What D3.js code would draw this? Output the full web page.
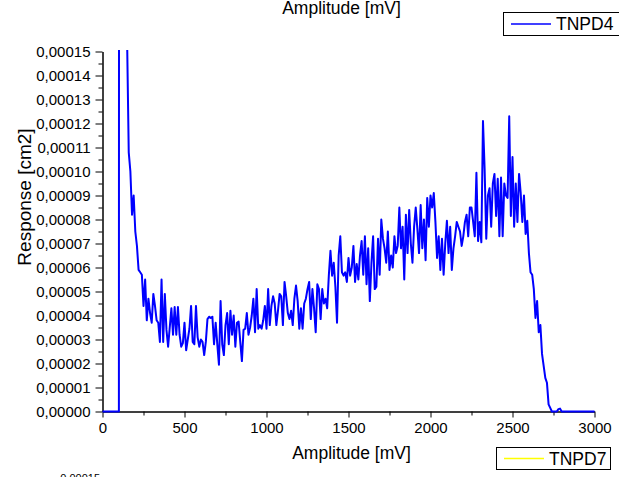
<!DOCTYPE html>
<html>
<head>
<meta charset="utf-8">
<script src="https://cdn.jsdelivr.net/npm/d3@7"></script>
<style>
  body { margin: 0; background: #fff; }
  text { font-family: "Liberation Sans", Arial, sans-serif; fill: #000; }
</style>
</head>
<body>
<script>
// Response of TNPD4, in units of 1e-5 cm2, one value per 10 mV bin starting at 0 mV
var binWidth = 10;
var tnpd4E5 = [
  0, 0, 0, 0, 0, 0, 0, 0, 0, 0,                                   // 0
  0, 250, 90, 45, 25, 15.5, 10.8, 10.0, 8.2, 9.0,                 // 100
  7.5, 6.9, 5.9, 5.8, 5.7, 4.4, 5.5, 3.8, 4.7, 4.1,               // 200
  3.7, 4.9, 4.4, 3.8, 3.7, 2.9, 5.5, 2.9, 4.9, 3.4,               // 300
  2.7, 3.5, 4.3, 3.2, 4.35, 3.2, 4.35, 3.2, 2.7, 2.85,            // 400
  3.7, 2.55, 3.0, 3.45, 4.4, 2.9, 2.8, 4.4, 3.1, 2.7,             // 500
  3.0, 2.9, 2.35, 2.9, 3.85, 3.95, 3.9, 3.95, 2.8, 3.7,           // 600
  2.8, 1.95, 4.6, 2.8, 2.35, 3.6, 4.1, 2.8, 4.2, 3.2,             // 700
  4.0, 2.7, 3.7, 3.75, 2.9, 2.1, 3.4, 3.45, 4.1, 3.2,             // 800
  3.5, 4.0, 4.7, 3.3, 5.1, 3.45, 3.6, 3.45, 3.8, 4.4,             // 900
  3.45, 5.1, 3.6, 4.4, 4.8, 4.5, 3.6, 4.2, 4.9, 4.8,              // 1000
  3.6, 5.4, 4.8, 4.1, 3.85, 4.2, 3.6, 4.7, 5.25, 4.6,             // 1100
  3.45, 4.3, 3.45, 4.5, 4.7, 5.1, 5.4, 3.85, 5.1, 4.3,            // 1200
  3.3, 5.3, 5.1, 3.85, 5.1, 4.5, 4.7, 4.3, 5.66, 6.7,             // 1300
  5.66, 6.2, 5.2, 3.7, 6.5, 7.3, 5.8, 5.66, 5.8, 5.4,             // 1400
  6.4, 5.66, 6.0, 6.9, 5.4, 6.15, 5.5, 6.5, 7.1, 5.7,             // 1500
  7.3, 5.3, 6.8, 4.6, 6.2, 7.3, 5.1, 5.2, 7.2, 5.7,               // 1600
  8.0, 7.2, 6.8, 6.2, 7.5, 5.9, 6.5, 6.0, 7.3, 6.6,               // 1700
  6.9, 8.5, 6.8, 7.7, 5.5, 8.2, 6.6, 8.4, 7.0, 6.2,               // 1800
  7.7, 8.5, 7.6, 6.6, 8.6, 6.8, 8.0, 6.3, 8.9, 7.7,               // 1900
  9.0, 8.5, 9.1, 7.9, 6.4, 7.3, 5.9, 7.2, 5.7, 7.0,               // 2000
  7.95, 6.6, 7.7, 5.9, 6.8, 7.3, 7.9, 7.7, 7.5, 6.9,              // 2100
  7.3, 7.9, 8.2, 7.3, 8.5, 8.5, 7.9, 7.3, 9.95, 7.1,              // 2200
  7.9, 7.05, 12.1, 10.1, 7.2, 9.0, 9.3, 7.7, 9.5, 9.9,            // 2300
  8.15, 9.7, 7.3, 9.75, 7.3, 9.5, 9.0, 8.9, 12.3, 8.15,           // 2400
  10.6, 7.7, 9.5, 7.9, 9.9, 9.1, 7.9, 9.0, 7.4, 7.95,             // 2500
  6.6, 5.8, 5.7, 5.1, 3.9, 4.6, 3.3, 3.6, 2.4, 1.9,               // 2600
  1.4, 1.2, 0.3, 0.15, 0, 0, 0, 0, 0.1, 0.12,                     // 2700
  0, 0, 0, 0, 0, 0, 0, 0, 0, 0,                                   // 2800
  0, 0, 0, 0, 0, 0, 0, 0, 0, 0,                                   // 2900
  0                                                               // 3000
];

var xMajor = [0, 500, 1000, 1500, 2000, 2500, 3000];
var xMinor = [250, 750, 1250, 1750, 2250, 2750];
var yMajor = [0, 0.00001, 0.00002, 0.00003, 0.00004, 0.00005, 0.00006, 0.00007,
              0.00008, 0.00009, 0.00010, 0.00011, 0.00012, 0.00013, 0.00014, 0.00015];
var yMinor = [0.000005, 0.000015, 0.000025, 0.000035, 0.000045, 0.000055, 0.000065,
              0.000075, 0.000085, 0.000095, 0.000105, 0.000115, 0.000125, 0.000135, 0.000145];

var seriesNames = ["TNPD4", "TNPD7"];
var seriesColors = ["#0000ff", "#ffff00"];

var width = 619, height = 477;

var svg = d3.select("body").append("svg")
    .attr("width", width)
    .attr("height", height);

var x = d3.scaleLinear().domain([0, 3000]).range([102.5, 594.5]);
var y = d3.scaleLinear().domain([0, 0.00015]).range([411.5, 51.5]);

// comma as decimal separator
var locale = d3.formatLocale({decimal: ",", thousands: "", grouping: [3], currency: ["", ""]});
var yFmt = locale.format(".5f");

var data = tnpd4E5.map(function(v, i) { return {a: i * binWidth, v: v * 1e-5}; });

// top title, left over from the plot above
svg.append("text")
    .attr("x", 341.5).attr("y", 13.5)
    .attr("text-anchor", "middle")
    .style("font-size", "17.5px")
    .text("Amplitude [mV]");

// axes
function styleAxis(g) {
  g.selectAll("path, line").attr("stroke", "#000").attr("stroke-width", 1);
  g.selectAll("text").style("font-size", "15px").attr("fill", "#000");
}

svg.append("g")
    .attr("transform", "translate(0,411.5)")
    .call(d3.axisBottom(x).tickValues(xMinor).tickSize(4).tickSizeOuter(0).tickFormat(""))
    .call(styleAxis);
svg.append("g")
    .attr("transform", "translate(0,411.5)")
    .call(d3.axisBottom(x).tickValues(xMajor).tickSize(6).tickSizeOuter(0).tickPadding(5).tickFormat(d3.format("d")))
    .call(styleAxis);

svg.append("g")
    .attr("transform", "translate(102.5,0)")
    .call(d3.axisLeft(y).tickValues(yMinor).tickSize(4).tickSizeOuter(0).tickFormat(""))
    .call(styleAxis);
svg.append("g")
    .attr("transform", "translate(102.5,0)")
    .call(d3.axisLeft(y).tickValues(yMajor).tickSize(7).tickSizeOuter(0).tickPadding(5).tickFormat(yFmt))
    .call(styleAxis);

// axis titles
svg.append("text")
    .attr("x", 351.5).attr("y", 459)
    .attr("text-anchor", "middle")
    .style("font-size", "17.5px")
    .text("Amplitude [mV]");

svg.append("text")
    .attr("transform", "translate(31,197) rotate(-90)")
    .attr("text-anchor", "middle")
    .style("font-size", "19px")
    .text("Response [cm2]");

// the curve, clipped to the plot area
svg.append("clipPath").attr("id", "plot")
  .append("rect")
    .attr("x", 100).attr("y", 50)
    .attr("width", 500).attr("height", 365);

var line = d3.line()
    .x(function(d) { return x(d.a); })
    .y(function(d) { return y(d.v); });

svg.append("path")
    .datum(data)
    .attr("clip-path", "url(#plot)")
    .attr("fill", "none")
    .attr("stroke", seriesColors[0])
    .attr("stroke-width", 2)
    .attr("stroke-linejoin", "round")
    .attr("d", line);

// legends
function legendBox(bx, by, bw, bh, name, color) {
  var g = svg.append("g").attr("transform", "translate(" + bx + "," + by + ")");
  g.append("rect")
      .attr("x", 0.5).attr("y", 0.5)
      .attr("width", bw).attr("height", bh)
      .attr("fill", "#fff").attr("stroke", "#000").attr("stroke-width", 1);
  g.append("line")
      .attr("x1", 8).attr("x2", 48)
      .attr("y1", bh / 2 + 0.5).attr("y2", bh / 2 + 0.5)
      .attr("stroke", color).attr("stroke-width", 1.6);
  g.append("text")
      .attr("x", 53).attr("y", bh / 2 + 6.5)
      .style("font-size", "17.5px")
      .text(name);
}
legendBox(503, 12, 120, 23, seriesNames[0], seriesColors[0]);
legendBox(496, 447, 114, 22, seriesNames[1], seriesColors[1]);

// top of the next plot's first tick label, cut by the frame
svg.append("text")
    .attr("x", 100).attr("y", 482)
    .attr("text-anchor", "end")
    .style("font-size", "11px")
    .attr("fill", "#aaa")
    .text(yFmt(0.00015));
</script>
</body>
</html>
